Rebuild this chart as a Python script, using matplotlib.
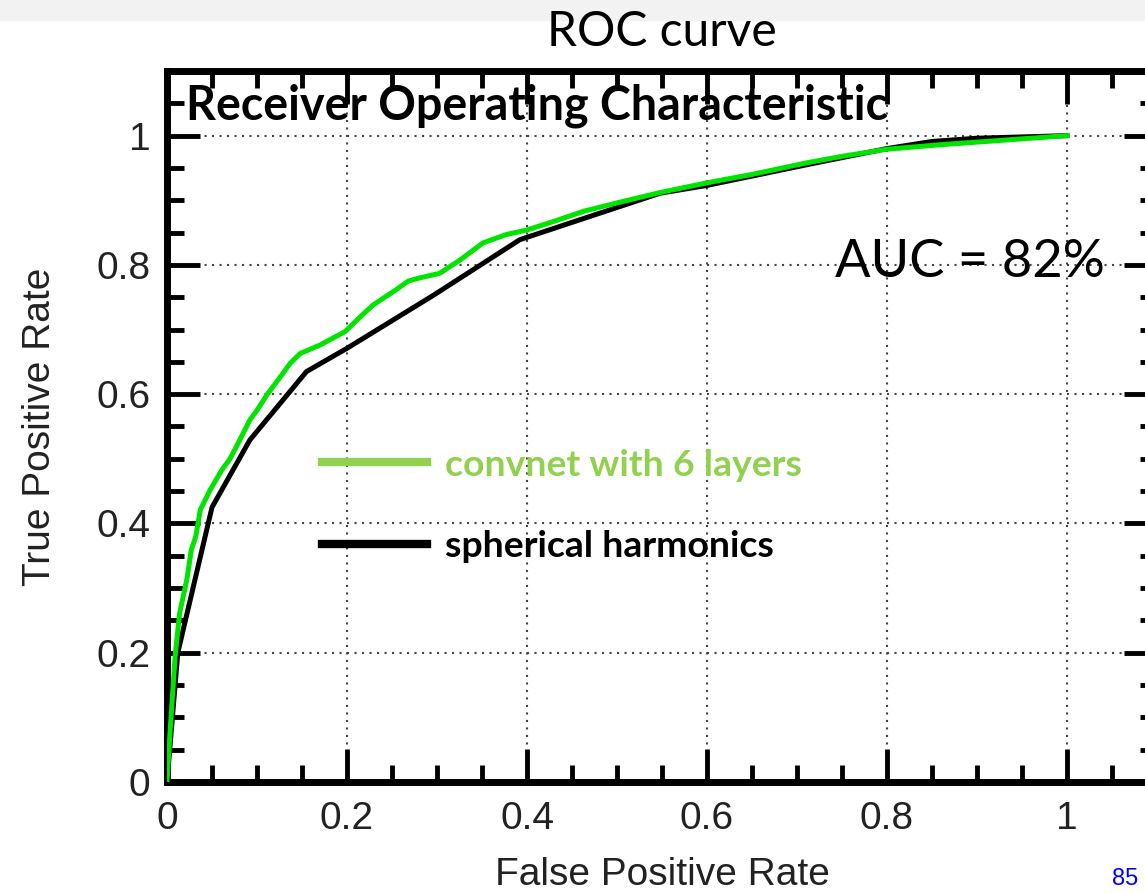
import matplotlib
matplotlib.use("Agg")
import matplotlib.pyplot as plt
from matplotlib.lines import Line2D
from matplotlib.patches import Rectangle
from matplotlib.ticker import MultipleLocator, FuncFormatter

# ROC points
fpr_convnet = [0, 0.004, 0.009, 0.014, 0.022, 0.027, 0.032, 0.037, 0.048, 0.061,
               0.070, 0.079, 0.092, 0.100, 0.111, 0.125, 0.137, 0.148, 0.170, 0.198,
               0.215, 0.229, 0.255, 0.268, 0.281, 0.303, 0.326, 0.351, 0.377, 0.400,
               0.429, 0.463, 0.500, 0.548, 0.600, 0.650, 0.711, 0.750, 0.800, 0.860,
               0.900, 0.950, 1.0]
tpr_convnet = [0, 0.09, 0.194, 0.261, 0.313, 0.359, 0.38, 0.421, 0.452, 0.483,
               0.50, 0.524, 0.560, 0.575, 0.599, 0.625, 0.648, 0.663, 0.676, 0.697,
               0.72, 0.738, 0.762, 0.775, 0.780, 0.787, 0.808, 0.834, 0.847, 0.854,
               0.867, 0.883, 0.896, 0.912, 0.927, 0.94, 0.958, 0.968, 0.979, 0.986,
               0.990, 0.995, 1.0]

fpr_sph = [0, 0.012, 0.05, 0.092, 0.155, 0.2, 0.296, 0.392, 0.548, 0.6,
           0.711, 0.8, 0.85, 0.9, 1.0]
tpr_sph = [0, 0.20, 0.425, 0.529, 0.635, 0.671, 0.753, 0.839, 0.911, 0.923,
           0.955, 0.980, 0.991, 0.996, 1.0]

series_labels = ["convnet with 6 layers", "spherical harmonics"]
title = "ROC curve"
inset_title = "Receiver Operating Characteristic"
auc_text = "AUC = 82%"
x_label = "False Positive Rate"
y_label = "True Positive Rate"
page_no = "85"

W, H = 1145, 893
CURVE_GREEN = "#00e400"
LEGEND_GREEN = "#92d050"
COMIC = "Lato"
PLAIN = "Liberation Sans"

fig = plt.figure(figsize=(W / 100, H / 100), dpi=100)
renderer = fig.canvas.get_renderer()


def fpos(x, y):
    """figure fraction from image pixel coords (origin top-left)"""
    return x / W, 1 - y / H


def fit(txt, target_w):
    w = txt.get_window_extent(renderer).width
    txt.set_fontsize(txt.get_fontsize() * target_w / w)
    return txt


# faint header strip at the very top
fig.patches.append(Rectangle((0, 1 - 20 / H), 1, 20 / H, transform=fig.transFigure,
                             color="#f2f2f2", zorder=0))

ax = fig.add_axes([167 / W, (H - 782) / H, 990 / W, 711 / H])
ax.set_xlim(0, 1.1)
ax.set_ylim(0, 1.1)

ax.plot(fpr_convnet, tpr_convnet, color=CURVE_GREEN, lw=3.6, zorder=3,
        solid_joinstyle="round")
ax.plot(fpr_sph, tpr_sph, color="black", lw=3.6, zorder=2.5,
        solid_joinstyle="round")

fmt = FuncFormatter(lambda v, _: f"{v:g}")
for axis in (ax.xaxis, ax.yaxis):
    axis.set_major_locator(MultipleLocator(0.2))
    axis.set_minor_locator(MultipleLocator(0.05))
    axis.set_major_formatter(fmt)
ax.tick_params(which="both", direction="in", top=True, right=True,
               width=3.5, color="black", labelsize=28, labelcolor="#222222")
ax.tick_params(which="major", length=24)
ax.tick_params(which="minor", length=12)
ax.tick_params(axis="x", pad=14)
ax.tick_params(axis="y", pad=12)
for lab in ax.get_xticklabels() + ax.get_yticklabels():
    lab.set_fontfamily(PLAIN)
for s in ax.spines.values():
    s.set_linewidth(5)

ax.grid(which="major", linestyle=(0, (1, 2.6)), lw=1.5, color="#444444")
ax.set_axisbelow(True)

ax.set_xlabel(x_label, fontsize=28, family=PLAIN, color="#222222")
ax.set_ylabel(y_label, fontsize=28, family=PLAIN, color="#222222")
ax.xaxis.set_label_coords(0.5, -0.106)
ax.yaxis.set_label_coords(-0.110, 0.5)

# texts drawn in the rounded slide font
t = fig.text(*fpos(547, 46), title, fontsize=30, family=COMIC, ha="left", va="baseline")
fit(t, 230)
t = fig.text(*fpos(186, 119), inset_title, fontsize=26, family=COMIC,
             weight="bold", ha="left", va="baseline")
fit(t, 702)
t = fig.text(*fpos(835, 277), auc_text, fontsize=36, family=COMIC, ha="left", va="baseline")
fit(t, 270)

# legend sized from the label widths
probe = fig.text(0, 0, series_labels[0], fontsize=20, family=COMIC, weight="bold")
fit(probe, 357)
fs = probe.get_fontsize()
probe.remove()
em = fs * 100 / 72
handles = [Line2D([], [], color=LEGEND_GREEN, lw=6),
           Line2D([], [], color="black", lw=6)]
ax.legend(handles, series_labels, loc="upper left",
          bbox_to_anchor=fpos(322, 471 - 0.6 * em), bbox_transform=fig.transFigure,
          frameon=False, borderpad=0, borderaxespad=0,
          handlelength=105 / em, handletextpad=18 / em,
          labelspacing=(93 - 1.2 * em) / em,
          labelcolor=[LEGEND_GREEN, "black"],
          prop={"family": COMIC, "weight": "bold", "size": fs})

fig.text(*fpos(1112, 868), page_no, fontsize=17, family=PLAIN, color="blue",
         ha="left", va="top")

fig.savefig("out.png", dpi=100)
